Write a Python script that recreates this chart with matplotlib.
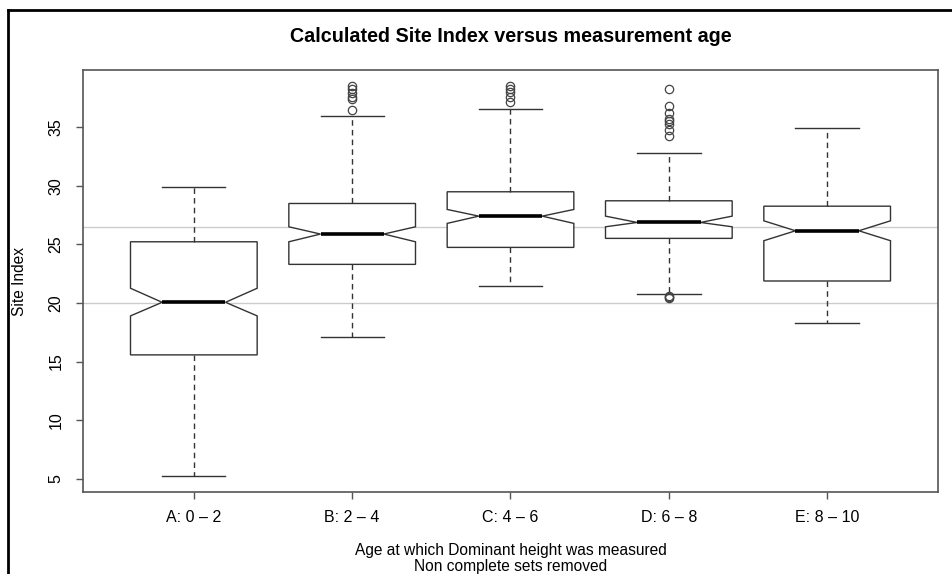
import matplotlib
matplotlib.use("Agg")
import matplotlib.pyplot as plt
from matplotlib.lines import Line2D

plt.rcParams['font.family'] = ['Liberation Sans', 'DejaVu Sans']

categories = ["A: 0 \u2013 2", "B: 2 \u2013 4", "C: 4 \u2013 6", "D: 6 \u2013 8", "E: 8 \u2013 10"]
medians = [20.06, 25.89, 27.42, 26.88, 26.17]
q1 = [15.57, 23.30, 24.75, 25.52, 21.88]
q3 = [25.23, 28.50, 29.50, 28.73, 28.27]
whislo = [5.26, 17.13, 21.45, 20.75, 18.27]
whishi = [29.92, 35.97, 36.54, 32.85, 34.98]
notch_lo = [18.90, 25.23, 26.80, 26.51, 25.32]
notch_hi = [21.26, 26.51, 27.99, 27.42, 27.02]
fliers_a = []
fliers_b = [36.5, 37.45, 37.6, 37.9, 38.25, 38.55]
fliers_c = [37.2, 37.6, 38.0, 38.3, 38.5]
fliers_d = [20.45, 20.5, 20.57, 34.27, 34.75, 35.32, 35.52, 35.75, 36.23, 36.83, 38.25]
fliers_e = []
ref_lines = [26.5, 20.0]
yticks = [5, 10, 15, 20, 25, 30, 35]

title = "Calculated Site Index versus measurement age"
xlabel_lines = ["Age at which Dominant height was measured", "Non complete sets removed"]
ylabel = "Site Index"

fliers = [fliers_a, fliers_b, fliers_c, fliers_d, fliers_e]
stats = []
for i in range(len(categories)):
    stats.append(dict(med=medians[i], q1=q1[i], q3=q3[i], whislo=whislo[i],
                      whishi=whishi[i], cilo=notch_lo[i], cihi=notch_hi[i],
                      fliers=fliers[i], label=categories[i]))

fig = plt.figure(figsize=(9.52, 5.74), dpi=100)
ax = fig.add_axes([83/952, 1 - 492/574, (938-83)/952, (492-70)/574])

for v in ref_lines:
    ax.axhline(v, color='#cccccc', lw=1.0, zorder=0)

box_c = '#333333'
ax.bxp(stats, positions=range(1, 6), widths=0.8, shownotches=True,
       patch_artist=True,
       boxprops=dict(facecolor='white', edgecolor=box_c, linewidth=1.0),
       medianprops=dict(color='black', linewidth=2.6, solid_capstyle='butt'),
       whiskerprops=dict(color=box_c, linewidth=1.0, linestyle=(0, (4, 3))),
       capprops=dict(color=box_c, linewidth=1.0),
       flierprops=dict(marker='o', markerfacecolor='none', markeredgecolor='#444444',
                       markersize=6, markeredgewidth=0.9, linestyle='none'))

ax.set_xlim(0.3, 5.7)
ax.set_ylim(3.86, 39.9)
ax.set_yticks(yticks)
ax.set_yticklabels([str(t) for t in yticks], rotation=90, va='center')
ax.set_xticks(range(1, 6))
ax.set_xticklabels(categories)
ax.tick_params(axis='both', length=5, width=1.0, color='#555555', labelsize=11.5, pad=8)
ax.tick_params(axis='y', pad=9)
for s in ax.spines.values():
    s.set_color('#555555')
    s.set_linewidth(1.2)

fig.text(510.5/952, 1 - 37/574, title, ha='center', va='center', fontsize=14.2, fontweight='bold')
fig.text(510.5/952, 1 - 551/574, xlabel_lines[0], ha='center', va='center', fontsize=11.2)
fig.text(510.5/952, 1 - 566/574, xlabel_lines[1], ha='center', va='center', fontsize=11.2)
fig.text(20/952, 1 - 281/574, ylabel, ha='center', va='center', rotation=90, fontsize=11.2)

# outer frame (top and left edges)
fig.add_artist(Line2D([8/952, 8/952], [0, 1 - 10/574], transform=fig.transFigure, color='black', lw=2))
fig.add_artist(Line2D([8/952, 1], [1 - 10/574, 1 - 10/574], transform=fig.transFigure, color='black', lw=2))

fig.savefig("out.png", dpi=100)
